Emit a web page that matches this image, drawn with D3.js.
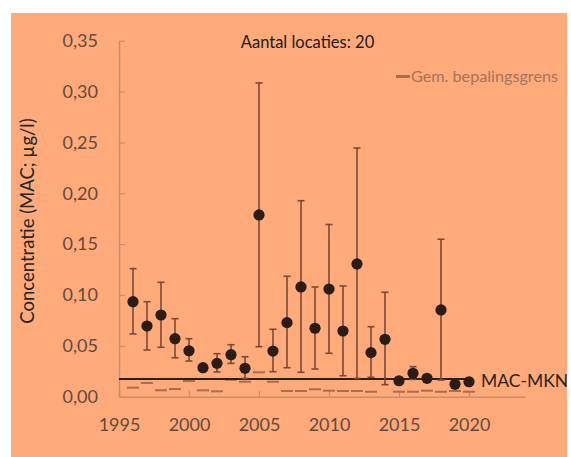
<!DOCTYPE html>
<html><head><meta charset="utf-8">
<script src="https://cdn.jsdelivr.net/npm/d3@7"></script>
<style>
html,body{margin:0;padding:0;background:#fff;}
svg{display:block;}
text{font-family:Lato, "Open Sans", sans-serif;}
</style></head>
<body>
<script>
const years = [1996,1997,1998,1999,2000,2001,2002,2003,2004,2005,2006,2007,2008,2009,2010,2011,2012,2013,2014,2015,2016,2017,2018,2019,2020];
const means = [0.0934,0.0695,0.0803,0.0570,0.0452,0.0285,0.0328,0.0413,0.0279,0.1787,0.0449,0.0728,0.1079,0.0673,0.1059,0.0646,0.1305,0.0433,0.0564,0.0157,0.0230,0.0181,0.0853,0.0122,0.0147];
const lower = [0.0617,0.0459,0.0486,0.0383,0.0351,0.0260,0.0243,0.0328,0.0180,0.0492,0.0246,0.0285,0.0240,0.0272,0.0427,0.0206,0.0180,0.0191,0.0118,0.0140,0.0170,0.0165,0.0164,0.0110,0.0135];
const upper = [0.1259,0.0934,0.1125,0.0767,0.0570,0.0310,0.0423,0.0511,0.0393,0.3085,0.0663,0.1184,0.1927,0.1079,0.1693,0.1089,0.2445,0.0688,0.1027,0.0175,0.0295,0.0200,0.1548,0.0135,0.0160];
const grens = [0.0089,0.0135,0.0063,0.0076,0.0154,0.0063,0.0053,0.0167,0.0147,0.0240,0.0147,0.0056,0.0056,0.0073,0.0059,0.0056,0.0056,0.0049,null,0.0049,0.0049,0.0059,0.0049,0.0056,0.0049];
const macMkn = 0.0175;
const yTicks = [0,0.05,0.10,0.15,0.20,0.25,0.30,0.35];
const xTicks = [1995,2000,2005,2010,2015,2020];
const title = "Aantal locaties: 20";
const yTitle = "Concentratie (MAC; µg/l)";
const legendLabel = "Gem. bepalingsgrens";
const macLabel = "MAC-MKN";

const W = 571, H = 457;
const svg = d3.select("body").append("svg").attr("width", W).attr("height", H);
svg.append("rect").attr("x",11).attr("y",13).attr("width",556).attr("height",444).attr("fill","#FEAA7B");

const x = d3.scaleLinear().domain([1995,2024]).range([119,525]);
const y = d3.scaleLinear().domain([0,0.35]).range([396.7,40.7]);

const axisCol = "#C98D69";
const labelCol = "#654A3B";
const fmt = d => d3.format(".2f")(d).replace(".", ",");

// y axis
const ya = svg.append("g").attr("transform","translate(119,0)")
  .call(d3.axisLeft(y).tickValues(yTicks).tickSizeInner(-6).tickSizeOuter(0).tickPadding(21).tickFormat(fmt));
ya.select(".domain").attr("stroke",axisCol).attr("stroke-width",1.5);
ya.selectAll(".tick line").attr("stroke",axisCol).attr("stroke-width",1.2);
ya.selectAll(".tick text").attr("fill",labelCol).attr("font-size",18).attr("font-family","Lato");

// x axis
const xa = svg.append("g").attr("transform","translate(0,396.7)")
  .call(d3.axisBottom(x).tickValues(xTicks).tickSizeInner(-6).tickSizeOuter(0).tickPadding(22).tickFormat(d3.format("d")));
xa.select(".domain").attr("stroke",axisCol).attr("stroke-width",1.5);
xa.selectAll(".tick line").attr("stroke",axisCol).attr("stroke-width",1.2);
xa.selectAll(".tick text").attr("fill",labelCol).attr("font-size",18).attr("font-family","Lato");

// bepalingsgrens dashes
const gData = years.map((yr,i)=>({yr, v:grens[i]})).filter(d=>d.v!=null);
svg.append("g").selectAll("line").data(gData).join("line")
  .attr("x1",d=>x(d.yr)-6).attr("x2",d=>x(d.yr)+6)
  .attr("y1",d=>y(d.v)).attr("y2",d=>y(d.v))
  .attr("stroke","#A86E4F").attr("stroke-width",2);

// MAC line
svg.append("line").attr("x1",x(1995)).attr("x2",x(2020))
  .attr("y1",y(macMkn)).attr("y2",y(macMkn))
  .attr("stroke","#2B1F19").attr("stroke-width",2);

// error bars
const data = years.map((yr,i)=>({yr, m:means[i], lo:lower[i], hi:upper[i]}));
const eb = svg.append("g").attr("stroke","#7A4A36").attr("stroke-width",1.6);
eb.selectAll("line.v").data(data).join("line").attr("class","v")
  .attr("x1",d=>x(d.yr)).attr("x2",d=>x(d.yr)).attr("y1",d=>y(d.lo)).attr("y2",d=>y(d.hi));
eb.selectAll("line.t").data(data).join("line").attr("class","t")
  .attr("x1",d=>x(d.yr)-3.5).attr("x2",d=>x(d.yr)+3.5).attr("y1",d=>y(d.hi)).attr("y2",d=>y(d.hi));
eb.selectAll("line.b").data(data).join("line").attr("class","b")
  .attr("x1",d=>x(d.yr)-3.5).attr("x2",d=>x(d.yr)+3.5).attr("y1",d=>y(d.lo)).attr("y2",d=>y(d.lo));

// dots
svg.append("g").selectAll("circle").data(data).join("circle")
  .attr("cx",d=>x(d.yr)).attr("cy",d=>y(d.m)).attr("r",5.6)
  .attr("fill","#2B1C16");

// labels
svg.append("text").attr("x",481).attr("y",y(macMkn)+8.5).attr("font-size",17.5).attr("fill","#2A2420").text(macLabel);
svg.append("text").attr("x",307.5).attr("y",48).attr("text-anchor","middle").attr("font-size",16.5).attr("fill","#1A1A1A").text(title);
svg.append("line").attr("x1",396).attr("x2",410).attr("y1",76.5).attr("y2",76.5).attr("stroke","#A86E4F").attr("stroke-width",3);
svg.append("text").attr("x",411).attr("y",81.5).attr("font-size",16.2).attr("fill","#A87458").text(legendLabel);
svg.append("text").attr("transform","translate(34,221) rotate(-90)").attr("text-anchor","middle")
  .attr("font-size",18.5).attr("fill","#262626").text(yTitle);
</script>
</body></html>
